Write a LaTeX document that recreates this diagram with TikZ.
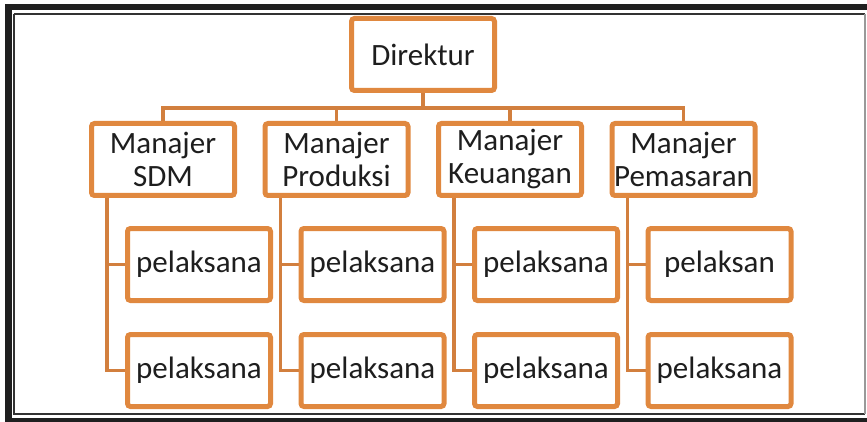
\documentclass[tikz,border=0pt]{standalone}
\usepackage{fontspec}
\setmainfont{Carlito}
\usetikzlibrary{shadows,backgrounds}

\definecolor{boxorange}{HTML}{E0883F}
\definecolor{linkorange}{HTML}{D27F3E}
\definecolor{textgray}{HTML}{1E1E1E}

\begin{document}
\begin{tikzpicture}[x=1pt, y=-1pt,
		unit/.style={draw=boxorange, line width=5pt, fill=white, rounded corners=3pt,
			minimum width=143pt, minimum height=72pt, inner sep=0pt, align=center,
			text=textgray, font=\fontsize{31}{33}\selectfont,
			drop shadow={opacity=0.25, shadow xshift=1.2pt, shadow yshift=-1.5pt}},
		link/.style={draw=linkorange, line width=3.5pt}]
		\useasboundingbox (0,0) rectangle (867,422);

		% frame
		\fill[black!88] (5,4) rectangle (12,422);
		\fill[black!88] (5,4) rectangle (867,10);
		\fill[black!88] (5,418) rectangle (867,422);
		\draw[black!80, line width=1.5pt] (14,14) -- (14,414) -- (865,414);
		\draw[black!80, line width=1.5pt] (14,14) -- (865,14);
		\draw[black!40, line width=1.2pt] (865,14) -- (865,414);

		% direktur and manajer
		\node[unit] (dir) at (423,54.5) {Direktur};
		\node[unit] (sdm) at (163,159.5) {Manajer\\SDM};
		\node[unit] (prod) at (336.5,159.5) {Manajer\\Produksi};
		\node[unit] (uang) at (510,159.5) {Manajer\\Keuangan};
		\node[unit] (pasar) at (683.5,159.5) {Manajer\\Pemasaran};

		% pelaksana
		\node[unit] (sdmA) at (199,264.5) {pelaksana};
		\node[unit] (sdmB) at (199,370.5) {pelaksana};
		\node[unit] (prodA) at (372.5,264.5) {pelaksana};
		\node[unit] (prodB) at (372.5,370.5) {pelaksana};
		\node[unit] (uangA) at (546,264.5) {pelaksana};
		\node[unit] (uangB) at (546,370.5) {pelaksana};
		\node[unit] (pasarA) at (719.5,264.5) {pelaksan};
		\node[unit] (pasarB) at (719.5,370.5) {pelaksana};

		\coordinate (bus) at (423,108);

		\begin{pgfonlayer}{background}
			\draw[link] (dir.south) -- (bus);
			\draw[link] (sdm.north) |- (bus) -| (pasar.north);
			\draw[link] (prod.north) -- (prod.north |- bus);
			\draw[link] (uang.north) -- (uang.north |- bus);

			\draw[link] ([xshift=-56pt]sdm.south) |- (sdmA.west);
			\draw[link] ([xshift=-56pt]sdm.south) |- (sdmB.west);
			\draw[link] ([xshift=-56pt]prod.south) |- (prodA.west);
			\draw[link] ([xshift=-56pt]prod.south) |- (prodB.west);
			\draw[link] ([xshift=-56pt]uang.south) |- (uangA.west);
			\draw[link] ([xshift=-56pt]uang.south) |- (uangB.west);
			\draw[link] ([xshift=-56pt]pasar.south) |- (pasarA.west);
			\draw[link] ([xshift=-56pt]pasar.south) |- (pasarB.west);
		\end{pgfonlayer}
	\end{tikzpicture}
\end{document}
